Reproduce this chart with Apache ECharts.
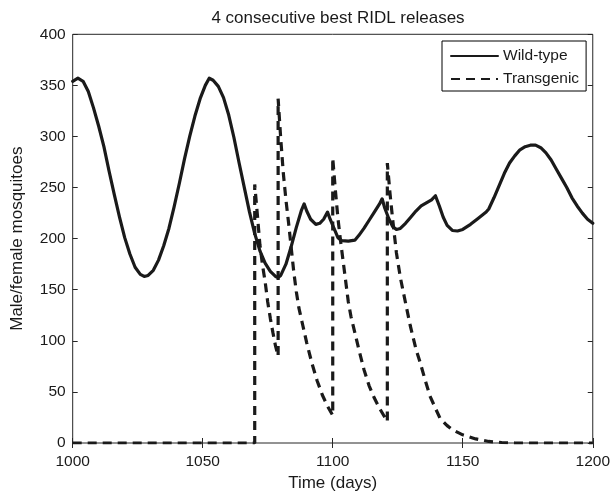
<!DOCTYPE html>
<html>
<head>
<meta charset="utf-8">
<script src="https://cdn.jsdelivr.net/npm/echarts@6/dist/echarts.min.js"></script>
<style>
  html, body { margin: 0; padding: 0; background: #fff; }
  #chart { width: 613px; height: 497px; }
</style>
</head>
<body>
<div id="chart"></div>
<script>
// ---- data ----
const titleText = "4 consecutive best RIDL releases";
const xName = "Time (days)";
const yName = "Male/female mosquitoes";
const seriesNames = ["Wild-type", "Transgenic"];
const xTicks = [1000, 1050, 1100, 1150, 1200];
const yTicks = [0, 50, 100, 150, 200, 250, 300, 350, 400];

// Wild-type: [day, count]
const wildType = [
  [1000,354],[1002,357],[1004,354],[1006,344],[1008,328],[1010,310],[1012,290],[1014,266],
  [1016,243],[1018,221],[1020,201],[1022,185],[1024,172],[1026,165],[1027.5,163],
  [1029,164],[1031,169],[1033,179],[1035,193],[1037,210],[1039,231],[1041,254],[1043,278],
  [1045,300],[1047,320],[1049,337],[1051,350],[1052.5,357],[1054,355],[1056,349],[1058,338],
  [1060,321],[1062,299],[1064,274],[1066,250],[1068,226],[1070,205],[1072,188],[1074,176],
  [1076,168],[1078,163],[1079,162],[1080,164],[1082,175],[1084,192],[1086,211],[1088,228],
  [1089,234],[1090,227],[1091.5,219],[1093.5,214],[1095,215],[1096.5,219],[1098,226],
  [1099,219],[1100.5,210],[1102,201],[1103.5,198],[1106,197.5],[1108.5,198.5],[1110,203],
  [1112,210],[1114,218],[1116,226],[1118,234],[1119,239],[1120,230],[1121.5,220],[1123,212],
  [1124.5,209],[1126,210],[1128,215],[1130,221],[1132,227],[1134,232],[1136,235],[1138,238],
  [1139.5,242],[1141,232],[1142.5,221],[1144,213],[1146,208],[1148,207.5],[1150,209],
  [1153,214],[1156,220],[1159,226],[1160,229],[1162,240],[1164,252],[1166,264],[1168,274],
  [1170,281],[1172,287],[1174,290],[1176,291.5],[1178,291.5],[1180,289],[1182,284],
  [1184,277],[1186,268],[1188,259],[1190,250],[1192,240],[1194,232],[1196,225],[1198,219],
  [1200,215]
];

// Transgenic: [day, count] (vertical jumps at each release)
const transgenic = [
  [1000,0],[1070,0],
  [1070,253],[1071,224],[1072,194],[1073,174],[1074,158],[1075,138],[1076,122],[1077,108],[1078,95],[1079,85],
  [1079,337],[1080,298],[1081,264],[1082,238],[1083,216],[1084,192],[1085,168],[1086,148],[1087,132],
  [1088.5,115],[1090,98],[1092,78],[1094,61],[1096,47],[1098,36],[1100,27],
  [1100,279],[1101,248],[1102,220],[1103,198],[1104,178],[1105,158],[1106,138],[1107,124],[1108.5,108],
  [1110,92],[1112,72],[1114,56],[1116,44],[1118,34],[1121,21],
  [1121,274],[1122,245],[1123,220],[1124.5,186],[1126,162],[1127.2,147],[1129.8,115],[1132,92],
  [1133.6,79],[1135.5,62],[1137.4,46],[1139.5,34],[1141.3,24],[1144,17],[1146,13],[1150,8],
  [1155,4],[1160,1.5],[1165,0.5],[1170,0],[1200,0]
];

const FONT = "'Liberation Sans', Arial, Helvetica, sans-serif";
const INK = "#1a1a1a";
const AXIS = "#262626";

const chart = echarts.init(document.getElementById('chart'), null, { renderer: 'canvas' });

const plain = v => String(v);

const baseX = {
  type: 'value', min: xTicks[0], max: xTicks[xTicks.length - 1], interval: xTicks[1] - xTicks[0],
  splitLine: { show: false }, axisLine: { show: false }
};
const baseY = {
  type: 'value', min: yTicks[0], max: yTicks[yTicks.length - 1], interval: yTicks[1] - yTicks[0],
  splitLine: { show: false }, axisLine: { show: false }
};

chart.setOption({
  animation: false,
  backgroundColor: '#fff',
  title: {
    text: titleText, left: 333, top: 5, textAlign: 'center',
    textStyle: { fontFamily: FONT, fontSize: 17, fontWeight: 'normal', color: INK }
  },
  grid: {
    left: 72.7, right: 19.3, top: 34.3, bottom: 53,
    show: true, borderColor: AXIS, borderWidth: 1, backgroundColor: 'transparent'
  },
  legend: {
    orient: 'vertical', left: 442, top: 41,
    data: seriesNames,
    itemWidth: 47, itemHeight: 14, itemGap: 7,
    padding: [7, 7, 4, 8],
    borderColor: '#000', borderWidth: 1, backgroundColor: '#fff',
    itemStyle: { opacity: 0 },
    textStyle: { fontFamily: FONT, fontSize: 15.5, color: INK }
  },
  xAxis: [
    Object.assign({}, baseX, {
      position: 'bottom',
      name: xName, nameLocation: 'middle', nameGap: 32,
      nameTextStyle: { fontFamily: FONT, fontSize: 17, color: INK },
      axisTick: { show: true, inside: true, length: 5, lineStyle: { color: AXIS } },
      axisLabel: { margin: 11, fontFamily: FONT, fontSize: 15.5, color: INK, formatter: plain }
    }),
    Object.assign({}, baseX, {
      position: 'top',
      axisTick: { show: true, inside: true, length: 5, lineStyle: { color: AXIS } },
      axisLabel: { show: false }
    })
  ],
  yAxis: [
    Object.assign({}, baseY, {
      position: 'left',
      name: yName, nameLocation: 'middle', nameGap: 47,
      nameTextStyle: { fontFamily: FONT, fontSize: 17, color: INK },
      axisTick: { show: true, inside: true, length: 5, lineStyle: { color: AXIS } },
      axisLabel: { margin: 7, fontFamily: FONT, fontSize: 15.5, color: INK, formatter: plain }
    }),
    Object.assign({}, baseY, {
      position: 'right',
      axisTick: { show: true, inside: true, length: 5, lineStyle: { color: AXIS } },
      axisLabel: { show: false }
    })
  ],
  series: [
    {
      name: seriesNames[0], type: 'line', data: wildType, xAxisIndex: 0, yAxisIndex: 0,
      symbol: 'none', smooth: false,
      lineStyle: { color: INK, width: 3.2, join: 'round', cap: 'round' },
      itemStyle: { color: INK }, z: 3
    },
    {
      name: seriesNames[1], type: 'line', data: transgenic, xAxisIndex: 0, yAxisIndex: 0,
      symbol: 'none', smooth: false,
      lineStyle: { color: INK, width: 3.2, type: [9, 6] },
      itemStyle: { color: INK }, z: 2
    }
  ]
});
</script>
</body>
</html>
